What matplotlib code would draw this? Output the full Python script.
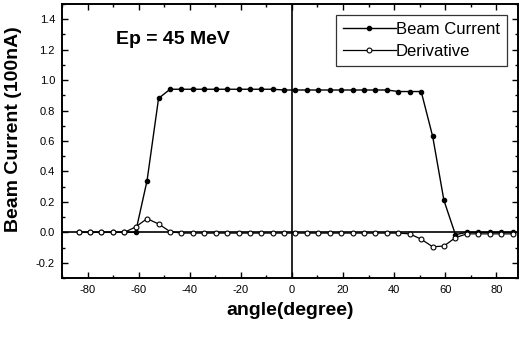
import numpy as np
import matplotlib
matplotlib.use("Agg")
import matplotlib.pyplot as plt
from matplotlib.ticker import MultipleLocator

plt.rcParams['font.family'] = ['Liberation Sans', 'DejaVu Sans']
plt.rcParams['axes.unicode_minus'] = False

# scan angle (degree)
angle = [-83.5, -79.0, -74.6, -70.1, -65.6, -61.2, -56.7, -52.2, -47.7, -43.3,
         -38.8, -34.3, -29.9, -25.4, -20.9, -16.5, -12.0, -7.5, -3.0, 1.4,
         5.9, 10.4, 14.8, 19.3, 23.8, 28.2, 32.7, 37.2, 41.7, 46.1,
         50.6, 55.1, 59.5, 64.0, 68.5, 73.0, 77.4, 81.9, 86.4]

beam = [0.0, 0.0, 0.0, 0.0, 0.0, 0.0, 0.34, 0.88, 0.94, 0.94,
        0.94, 0.94, 0.94, 0.94, 0.94, 0.94, 0.94, 0.94, 0.935, 0.935,
        0.935, 0.935, 0.935, 0.935, 0.935, 0.935, 0.935, 0.935, 0.925, 0.925,
        0.925, 0.63, 0.21, -0.015, 0.0, 0.0, 0.0, 0.0, 0.0]

deriv = [0.0, 0.0, 0.0, 0.0, 0.0, 0.035, 0.09, 0.055, 0.005, -0.005,
         -0.005, -0.005, -0.005, -0.005, -0.005, -0.005, -0.005, -0.005, -0.005, -0.005,
         -0.005, -0.005, -0.005, -0.005, -0.005, -0.005, -0.005, -0.005, -0.005, -0.01,
         -0.045, -0.095, -0.09, -0.035, -0.01, -0.01, -0.01, -0.01, -0.01]

yticks = [-0.2, 0.0, 0.2, 0.4, 0.6, 0.8, 1.0, 1.2, 1.4]

fig = plt.figure(figsize=(5.19, 3.37), dpi=100)
ax = fig.add_axes([62/519, 59/337, 456/519, 274/337])

ax.axhline(0, color='black', lw=1.2, zorder=1)
ax.axvline(0, color='black', lw=1.2, zorder=1)

ax.plot(angle, beam, '-o', color='black', lw=1, ms=3,
        mfc='black', mec='black', label='Beam Current', zorder=3)
ax.plot(angle, deriv, '-o', color='black', lw=0.9, ms=3.5,
        mfc='white', mec='black', mew=0.8, label='Derivative', zorder=4)

ax.set_xlim(-90, 88.5)
ax.set_ylim(-0.3, 1.5)
ax.set_xticks(np.arange(-80, 81, 20))
ax.xaxis.set_minor_locator(MultipleLocator(10))
ax.set_yticks(yticks)
ax.set_yticklabels(['%.1f' % v for v in yticks])
ax.yaxis.set_minor_locator(MultipleLocator(0.1))

ax.tick_params(which='both', direction='in', top=True, right=True, labelsize=8, width=1)
ax.tick_params(which='major', length=4.5, pad=5)
ax.tick_params(which='minor', length=2.5)
for s in ax.spines.values():
    s.set_linewidth(1.4)

ax.set_xlabel('angle(degree)', fontsize=14, fontweight='bold', labelpad=5)
ax.set_ylabel('Beam Current (100nA)', fontsize=14, fontweight='bold')
ax.yaxis.set_label_coords(-0.088, 0.544)

ax.text(-69, 1.27, 'Ep = 45 MeV', fontsize=14, fontweight='bold', va='center', ha='left')

leg = ax.legend(loc='upper right', bbox_to_anchor=(0.975, 0.96), fontsize=12,
                frameon=True, fancybox=False, edgecolor='black', handlelength=3.2,
                handletextpad=0.0, borderpad=0.4, labelspacing=0.45, borderaxespad=0)
leg.get_frame().set_linewidth(0.9)

fig.savefig('out.png', dpi=100)
